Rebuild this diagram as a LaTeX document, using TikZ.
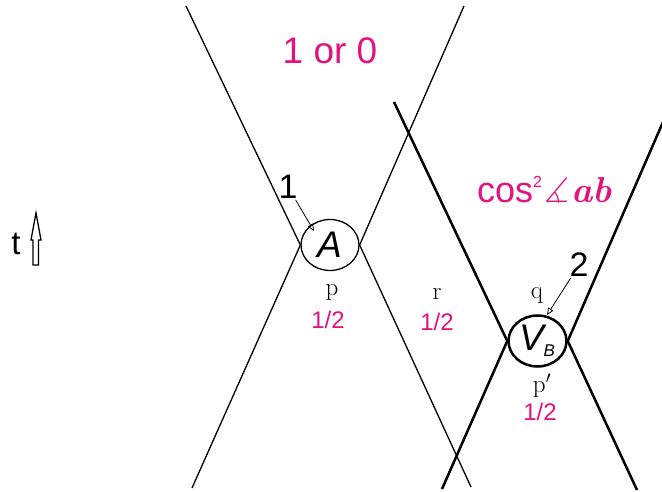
\documentclass[tikz,border=0pt]{standalone}
\usepackage{graphicx}
\usepackage{amssymb}
\usepackage{fontspec}
\newfontfamily\labelfont{Liberation Sans}
\usetikzlibrary{arrows.meta,shapes.geometric}
\definecolor{prob}{RGB}{226,18,126}
\tikzset{
	thinline/.style={line width=1.3pt},
	thickline/.style={line width=2.5pt},
	bigtext/.style={font=\labelfont\fontsize{37}{40}\selectfont},
	halftext/.style={text=prob, font=\labelfont\fontsize{24}{26}\selectfont},
	spintext/.style={text=black, font=\fontsize{25}{26}\selectfont},
	pointer/.style={line width=0.8pt, -{Triangle[open,length=7pt,width=6pt]}},
	vertex/.style={draw, ellipse, fill=white, inner sep=0pt, minimum width=58pt, minimum height=51pt},
}
\begin{document}
\begin{tikzpicture}[x=1pt, y=-1pt]
	\useasboundingbox (0, 0) rectangle (662, 492);

		% the two vertices
		\node[vertex, thinline, bigtext] (A) at(330, 245){\itshape A};
		\node[vertex, thickline, bigtext] (VB) at(537.5, 341){\itshape V\kern-1pt\raisebox{-6pt}{\fontsize{17}{17}\selectfont B}};

		\coordinate (tl1) at(186, 6);
		\coordinate (bl1) at(192, 488);
		\coordinate (tr1) at(464, 6);
		\coordinate (br1) at(471, 487);
		\coordinate (tl2) at(394, 102);
		\coordinate (bl2) at(442, 489);
		\coordinate (tr2) at(663, 122);
		\coordinate (br2) at(637, 490);

		\draw[thinline](tl1) to (A.west) to (bl1);
		\draw[thinline](tr1) to (A.east) to (br1);
		\draw[thickline](tl2) to (VB.west) to (bl2);
		\draw[thickline](tr2) to (VB.east) to (br2);

		% callouts
		\node[bigtext, font=\labelfont\fontsize{34}{34}\selectfont, inner sep=1pt] (one) at(288, 187){1};
		\coordinate (tipone) at(314, 231);
		\draw[pointer](one) to (tipone);
		\node[bigtext, font=\labelfont\fontsize{34}{34}\selectfont, inner sep=1pt] (two) at(579, 265){2};
		\coordinate (tiptwo) at(547, 315);
		\draw[pointer](two) to (tiptwo);

		% probabilities
		\node[bigtext, text=prob] (oneorzero) at(330, 51){1 or 0};
		\node[bigtext, font=\labelfont\fontsize{36}{38}\selectfont, text=prob, anchor=base west, inner sep=0pt] (cosab) at(477, 203){cos\raisebox{15pt}{\fontsize{16}{16}\selectfont 2}\kern2pt{\fontsize{24}{24}\selectfont\scalebox{1.45}{$\measuredangle$}}\kern2pt{\rmfamily\bfseries\itshape ab}};

		\node[spintext] (p) at(332, 292){p};
		\node[halftext] (halfp) at(328, 320){1/2};
		\node[spintext] (r) at(437, 294){r};
		\node[halftext] (halfr) at(437, 322){1/2};
		\node[spintext] (q) at(537, 295){q};
		\node[spintext] (pprime) at(542, 386){p$'$};
		\node[halftext] (halfpp) at(540, 412){1/2};

		% time axis
		\node[bigtext, font=\labelfont\fontsize{33}{34}\selectfont] (t) at(16, 244){t};
		\draw[line width=1.3pt](33, 265) -- (33, 240) -- (31, 240) -- (36, 213) -- (41, 240) -- (38.5, 240) -- (38.5, 265) -- cycle;
	\end{tikzpicture}
\end{document}
